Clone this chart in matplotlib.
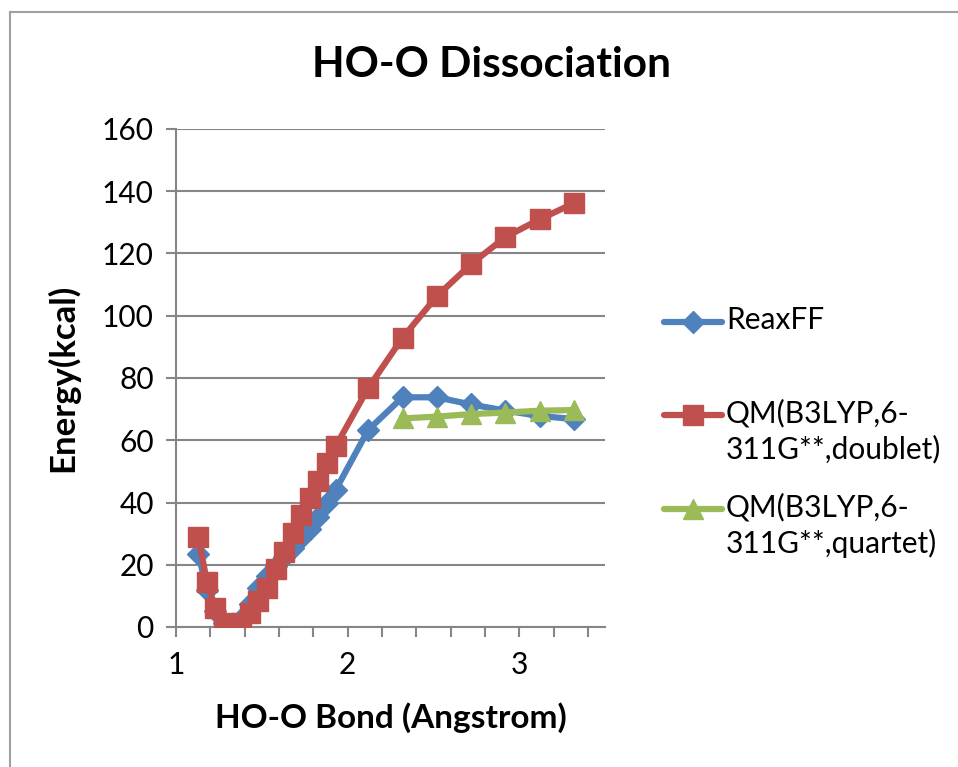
import matplotlib.pyplot as plt
from matplotlib.lines import Line2D
from matplotlib.ticker import MultipleLocator

plt.rcParams['font.family'] = ['Lato', 'DejaVu Sans']

# bond length (Angstrom) and energies (kcal)
bond = [1.13, 1.18, 1.23, 1.28, 1.33, 1.38, 1.43, 1.48, 1.53, 1.58, 1.63, 1.68,
        1.73, 1.78, 1.83, 1.88, 1.93, 2.12, 2.32, 2.52, 2.72, 2.92, 3.12, 3.32]
reaxff = [23.5, 12.0, 5.0, 1.2, 0.2, 2.5, 7.5, 12.5, 16.5, 19.5, 22.5, 25.5,
          28.5, 31.5, 35.2, 39.8, 44.0, 63.3, 73.8, 73.8, 71.5, 69.5, 67.8, 66.8]
qm_doublet = [28.8, 14.6, 6.0, 1.4, 0.3, 1.2, 4.5, 8.2, 12.4, 18.5, 24.2, 30.1,
              36.0, 41.5, 46.8, 52.6, 58.0, 76.8, 92.9, 106.3, 116.6, 125.3, 131.0, 136.2]
bond_quartet = [2.32, 2.52, 2.72, 2.92, 3.12, 3.32]
qm_quartet = [67.0, 67.6, 68.4, 68.9, 69.5, 69.7]

names = ["ReaxFF", "QM(B3LYP,6-\n311G**,doublet)", "QM(B3LYP,6-\n311G**,quartet)"]
colors = ["#4F81BD", "#C0504D", "#9BBB59"]
markers = ["D", "s", "^"]
msizes = [11, 14, 15]

W, H = 958, 767
fig = plt.figure(figsize=(W / 100, H / 100), dpi=100)
ax = fig.add_axes([176 / W, 1 - 627 / H, (605 - 176) / W, (627 - 129) / H])

grey = "#868686"
ax.plot(bond, reaxff, color=colors[0], lw=4.5, marker=markers[0], ms=msizes[0], zorder=3)
ax.plot(bond, qm_doublet, color=colors[1], lw=4.5, marker=markers[1], ms=msizes[1], zorder=4)
ax.plot(bond_quartet, qm_quartet, color=colors[2], lw=4.5, marker=markers[2], ms=msizes[2], zorder=5)

ax.set_xlim(1, 3.5)
ax.set_ylim(0, 160)
ax.xaxis.set_major_locator(MultipleLocator(1))
ax.xaxis.set_minor_locator(MultipleLocator(0.2))
ax.yaxis.set_major_locator(MultipleLocator(20))
ax.grid(axis="y", color=grey, lw=1.5)
ax.set_axisbelow(True)
for s in ["top", "right"]:
    ax.spines[s].set_visible(False)
for s in ["left", "bottom"]:
    ax.spines[s].set_color(grey)
    ax.spines[s].set_linewidth(1.5)
ax.tick_params(axis="both", which="both", color=grey, width=1.5, length=7,
               labelsize=21.5, direction="out")
ax.tick_params(axis="x", pad=10)
ax.tick_params(axis="y", pad=9)

ax.set_xlabel("HO-O Bond (Angstrom)", fontsize=24, fontweight="bold", labelpad=17)
ax.set_ylabel("Energy(kcal)", fontsize=25, fontweight="bold", labelpad=16)
fig.text(491 / W, 1 - 65 / H, "HO-O Dissociation", fontsize=30.5, fontweight="bold",
         ha="center", va="center")

# legend drawn by hand, handle aligned to first text line
for i, (name, yy) in enumerate(zip(names, [322, 415, 509])):
    yf = 1 - yy / H
    fig.add_artist(Line2D([664 / W, 722 / W], [yf, yf], color=colors[i], lw=4.5,
                          solid_capstyle="round"))
    fig.add_artist(Line2D([693 / W], [yf], color=colors[i], marker=markers[i],
                          ms=msizes[i], lw=0))
    fig.text(726 / W, yf + 16 / H, name, fontsize=21.5, ha="left", va="top",
             linespacing=1.3)

# chart frame
fig.add_artist(Line2D([10 / W, 1], [1 - 12 / H, 1 - 12 / H], color="#A0A0A0", lw=1.5))
fig.add_artist(Line2D([10 / W, 10 / W], [0, 1 - 12 / H], color="#A0A0A0", lw=1.5))

fig.savefig("out.png", dpi=100)
